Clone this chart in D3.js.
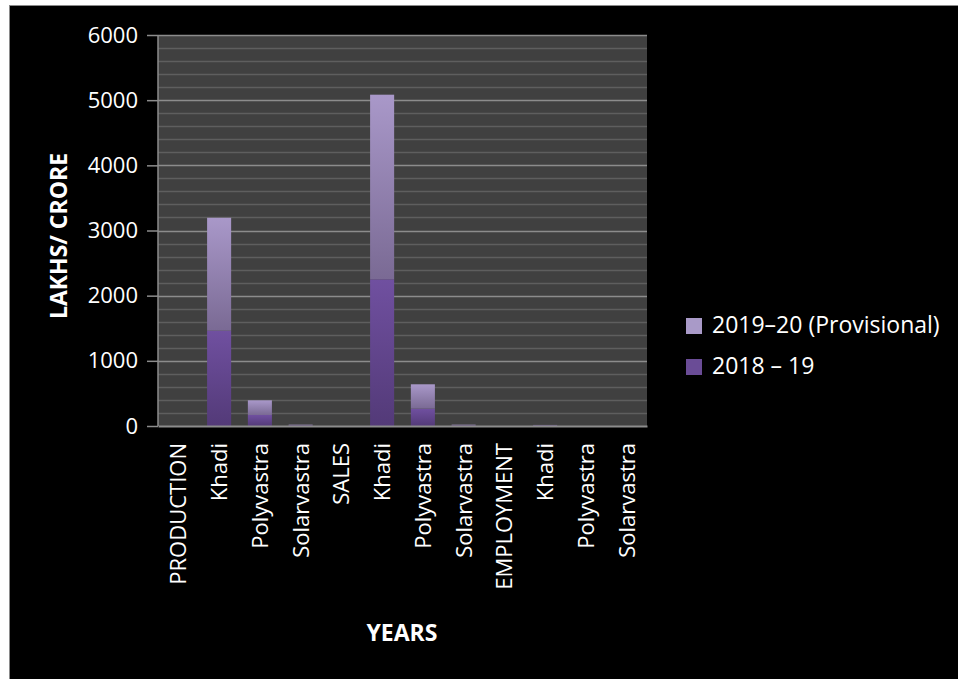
<!DOCTYPE html>
<html>
<head>
<meta charset="utf-8">
<script src="https://cdnjs.cloudflare.com/ajax/libs/d3/7.8.5/d3.min.js"></script>
<style>
  html, body { margin: 0; padding: 0; background: #fff; }
  svg { display: block; }
  text { font-family: "Open Sans", "DejaVu Sans", sans-serif; fill: #fff; }
</style>
</head>
<body>
<script>
// categories along the x axis
var categories = ["PRODUCTION", "Khadi", "Polyvastra", "Solarvastra",
                  "SALES", "Khadi", "Polyvastra", "Solarvastra",
                  "EMPLOYMENT", "Khadi", "Polyvastra", "Solarvastra"];
// stacked series, bottom first
var seriesNames = ["2018 – 19", "2019–20 (Provisional)"];
var values2018 = [0, 1462, 169, 10, 0, 2251, 266, 10, 0, 8, 0, 0];
var values2019 = [0, 1733, 225, 10, 0, 2833, 374, 10, 0, 8, 0, 0];
var yTicks = [0, 1000, 2000, 3000, 4000, 5000, 6000];

var W = 958, H = 679;
var margin = {left: 158, right: 311, top: 35, bottom: 253};
var plotW = W - margin.left - margin.right,
    plotH = H - margin.top - margin.bottom;

var svg = d3.select("body").append("svg")
    .attr("width", W).attr("height", H);

// white page edge and black slide
svg.append("rect").attr("width", W).attr("height", H).attr("fill", "#fff");
svg.append("rect").attr("x", 9.5).attr("y", 5.5)
    .attr("width", W).attr("height", H)
    .attr("fill", "#000").attr("stroke", "#8a8a8a");

var defs = svg.append("defs");
function grad(id, top, bottom) {
  var g = defs.append("linearGradient").attr("id", id)
      .attr("x1", 0).attr("y1", 0).attr("x2", 0).attr("y2", 1);
  g.append("stop").attr("offset", "0%").attr("stop-color", top);
  g.append("stop").attr("offset", "100%").attr("stop-color", bottom);
}
grad("g2018", "#7050a0", "#533a78");
grad("g2019", "#a998c9", "#7a6a94");

var x = d3.scaleBand().domain(d3.range(categories.length))
    .range([0, plotW]).paddingInner(0.41).paddingOuter(0.205);
var y = d3.scaleLinear().domain([0, 6000]).range([plotH, 0]);

var g = svg.append("g")
    .attr("transform", "translate(" + margin.left + "," + margin.top + ")");

g.append("rect").attr("width", plotW).attr("height", plotH).attr("fill", "#404040");

// minor gridlines every 200
g.selectAll(".minor").data(d3.range(200, 6000, 200).filter(function(v) { return v % 1000; }))
  .enter().append("line")
    .attr("x1", 0).attr("x2", plotW)
    .attr("y1", function(d) { return Math.round(y(d)) + 0.5; })
    .attr("y2", function(d) { return Math.round(y(d)) + 0.5; })
    .attr("stroke", "#5e5e5e").attr("stroke-width", 1.5);

// major gridlines
g.selectAll(".major").data(yTicks.slice(1))
  .enter().append("line")
    .attr("x1", 0).attr("x2", plotW)
    .attr("y1", function(d) { return Math.round(y(d)) + 0.5; })
    .attr("y2", function(d) { return Math.round(y(d)) + 0.5; })
    .attr("stroke", "#8c8c8c").attr("stroke-width", 1.5);

// stacked bars
var rows = categories.map(function(c, i) {
  return {i: i, a: values2018[i], b: values2019[i]};
});
var stack = d3.stack().keys(["a", "b"])(rows);
var fills = ["url(#g2018)", "url(#g2019)"];

stack.forEach(function(layer, k) {
  g.selectAll(".bar" + k).data(layer.filter(function(d) { return d[1] > d[0]; }))
    .enter().append("rect")
      .attr("x", function(d) { return x(d.data.i); })
      .attr("width", x.bandwidth())
      .attr("y", function(d) { return y(d[1]); })
      .attr("height", function(d) { return y(d[0]) - y(d[1]); })
      .attr("fill", fills[k]);
});

// axes
var yAxis = g.append("g").call(d3.axisLeft(y).tickValues(yTicks)
    .tickFormat(d3.format("d")).tickSize(11).tickPadding(9));
yAxis.select(".domain").attr("stroke", "#8c8c8c").attr("stroke-width", 1.5)
    .attr("d", "M0," + plotH + "V0");
yAxis.selectAll(".tick line").attr("stroke", "#8c8c8c").attr("stroke-width", 1.5);
yAxis.selectAll(".tick text").attr("fill", "#fff")
    .style("font-size", "22px").style("font-family", "'Open Sans', sans-serif");

var xAxis = g.append("g").attr("transform", "translate(0," + plotH + ")")
    .call(d3.axisBottom(x).tickSize(0).tickFormat(function(i) { return categories[i]; }));
xAxis.select(".domain").attr("stroke", "#8c8c8c").attr("stroke-width", 2);
xAxis.selectAll(".tick text")
    .attr("fill", "#fff")
    .style("font-size", "22px").style("font-family", "'Open Sans', sans-serif")
    .attr("text-anchor", "end")
    .attr("transform", "rotate(-90)")
    .attr("x", -17).attr("y", 0).attr("dy", "0.36em");

// axis titles
svg.append("text")
    .attr("transform", "translate(67,236) rotate(-90)")
    .attr("text-anchor", "middle")
    .style("font-size", "23px").style("font-weight", "bold")
    .text("LAKHS/ CRORE");
svg.append("text")
    .attr("x", 402).attr("y", 641)
    .attr("text-anchor", "middle")
    .style("font-size", "23px").style("font-weight", "bold")
    .text("YEARS");

// legend
var legendItems = [
  {name: seriesNames[1], color: "#a99ac8"},
  {name: seriesNames[0], color: "#6a4c96"}
];
var legend = svg.selectAll(".legend").data(legendItems).enter().append("g")
    .attr("transform", function(d, i) { return "translate(686," + (318 + i * 41) + ")"; });
legend.append("rect").attr("width", 16).attr("height", 16)
    .attr("fill", function(d) { return d.color; });
legend.append("text").attr("x", 26).attr("y", 15)
    .style("font-size", "23px")
    .text(function(d) { return d.name; });
</script>
</body>
</html>
